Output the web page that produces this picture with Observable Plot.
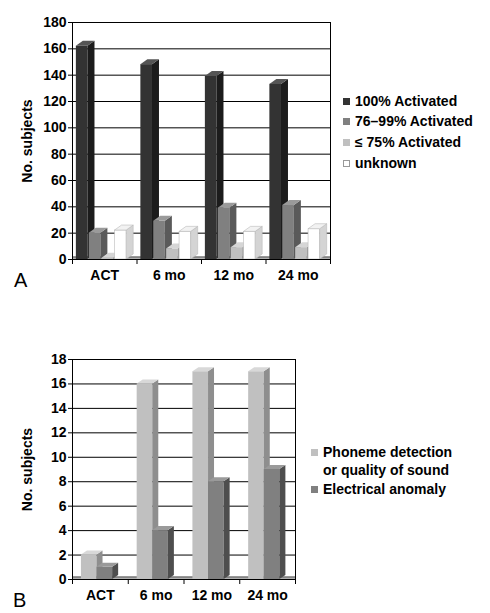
<!DOCTYPE html>
<html><head><meta charset="utf-8">
<script src="https://cdn.jsdelivr.net/npm/d3@7"></script>
<script src="https://cdn.jsdelivr.net/npm/@observablehq/plot@0.6"></script>
<style>
body{margin:0;background:#fff;font-family:"Liberation Sans",Arial,sans-serif;}
#root{position:relative;width:490px;height:613px;overflow:hidden;background:#fff}
.leg{position:absolute;font-weight:bold;font-size:14px;white-space:nowrap;line-height:16px;color:#000}
.sw{position:absolute;width:7px;height:7px;box-sizing:border-box}
.letter{position:absolute;font-size:20px;line-height:20px;color:#000}
</style></head><body><div id="root"></div>
<script>
const categories = ["ACT", "6 mo", "12 mo", "24 mo"];
const seriesA = ["100% Activated", "76\u201399% Activated", "\u2264 75% Activated", "unknown"];
const valuesA100 = [162, 148, 139, 133];
const valuesA76 = [20, 29, 39, 41];
const valuesA75 = [1, 8, 9, 9];
const valuesAunk = [22, 21, 21, 23];
const ticksA = [0, 20, 40, 60, 80, 100, 120, 140, 160, 180];
const seriesB = ["Phoneme detection", "Electrical anomaly"];
const seriesBline2 = "or quality of sound";
const valuesBphon = [2, 16, 17, 17];
const valuesBelec = [1, 4, 8, 9];
const ticksB = [0, 2, 4, 6, 8, 10, 12, 14, 16, 18];

const valuesA = [valuesA100, valuesA76, valuesA75, valuesAunk];
const valuesB = [valuesBphon, valuesBelec];

const frontA = ["#333333", "#808080", "#c0c0c0", "#ffffff"];
const sideA = ["#1c1c1c", "#5a5a5a", "#969696", "#d4d4d4"];
const topA = ["#555555", "#9a9a9a", "#d6d6d6", "#f2f2f2"];
const frontB = ["#c0c0c0", "#808080"];
const sideB = ["#8e8e8e", "#4e4e4e"];
const topB = ["#d8d8d8", "#9a9a9a"];

const root = document.getElementById("root");
const NS = "http://www.w3.org/2000/svg";

function face3d(depth, rise, sideColor, topColor, edge) {
  return (index, scales, values, dimensions, context, next) => {
    const g = next(index, scales, values, dimensions, context);
    for (const r of Array.from(g.querySelectorAll("rect"))) {
      const x = +r.getAttribute("x"), y = +r.getAttribute("y");
      const w = +r.getAttribute("width"), h = +r.getAttribute("height");
      const side = document.createElementNS(NS, "polygon");
      side.setAttribute("points", `${x + w},${y} ${x + w + depth},${y - rise} ${x + w + depth},${y + h - rise} ${x + w},${y + h}`);
      side.setAttribute("fill", sideColor);
      const top = document.createElementNS(NS, "polygon");
      top.setAttribute("points", `${x},${y} ${x + depth},${y - rise} ${x + w + depth},${y - rise} ${x + w},${y}`);
      top.setAttribute("fill", topColor);
      if (edge) {
        side.setAttribute("stroke", edge); side.setAttribute("stroke-width", 0.6);
        top.setAttribute("stroke", edge); top.setAttribute("stroke-width", 0.6);
      }
      r.after(side, top);
    }
    return g;
  };
}

function chart({series, values, ticks, maxY, front, side, topc, geo, width, height, marginTop, marginBottom, depth, rise}) {
  const marks = [
    Plot.gridY(ticks, {stroke: "#000", strokeOpacity: 1, strokeWidth: 1}),
    Plot.ruleX([categories.length], {stroke: "#000"}),
    Plot.ruleY([0], {stroke: "#b0b0b0", strokeWidth: 2, dy: -1}),
    Plot.ruleY([0], {stroke: "#333", strokeWidth: 1, dy: -2.5})
  ];
  series.forEach((s, j) => {
    const data = categories.map((c, i) => ({cat: c, i, series: s, value: values[j][i]}));
    marks.push(Plot.rect(data, {
      x1: d => d.i + geo.start + j * geo.step,
      x2: d => d.i + geo.start + j * geo.step + geo.width,
      y1: 0,
      y2: "value",
      fill: front[j],
      stroke: front[j] === "#ffffff" ? "#bbbbbb" : null,
      strokeWidth: 0.6,
      render: face3d(depth, rise, side[j], topc[j], front[j] === "#ffffff" ? "#bbbbbb" : null)
    }));
  });
  marks.push(
    Plot.ruleY([0], {stroke: "#000"}),
    Plot.axisY(ticks, {tickSize: 4, tickPadding: 2, label: "No. subjects", labelAnchor: "center", labelArrow: "none", labelOffset: 50, fontSize: 14, fontWeight: "bold"}),
    Plot.axisX(d3.range(categories.length + 1), {tickSize: 5, tickFormat: () => "", label: null}),
    Plot.axisX(categories.map((c, i) => i + 0.5), {tickSize: 0, tickPadding: 11, tickFormat: d => categories[Math.floor(d)], label: null, fontSize: 14, fontWeight: "bold"}),
    Plot.ruleX([0], {stroke: "#000"})
  );
  return Plot.plot({
    width, height, marginLeft: 72, marginRight: 5, marginTop, marginBottom,
    style: {fontFamily: "'Liberation Sans', Arial, sans-serif", fontSize: "14px", fontWeight: "bold", color: "#000", background: "transparent"},
    x: {type: "linear", domain: [0, categories.length], axis: null},
    y: {domain: [0, maxY], axis: null},
    marks
  });
}

const svgA = chart({series: seriesA, values: valuesA, ticks: ticksA, maxY: 180, front: frontA, side: sideA, topc: topA,
  geo: {start: 0.06, step: 0.2, width: 0.18}, width: 335, height: 290, marginTop: 22, marginBottom: 31, depth: 7, rise: 5});
svgA.style.position = "absolute"; svgA.style.left = "0px"; svgA.style.top = "0px";
root.appendChild(svgA);

const svgB = chart({series: seriesB, values: valuesB, ticks: ticksB, maxY: 18, front: frontB, side: sideB, topc: topB,
  geo: {start: 0.16, step: 0.28, width: 0.28}, width: 300, height: 283, marginTop: 29, marginBottom: 34, depth: 6, rise: 4});
svgB.style.position = "absolute"; svgB.style.left = "0px"; svgB.style.top = "330px";
root.appendChild(svgB);

function addLegend(x, y, color, text, border) {
  const sw = document.createElement("div");
  sw.className = "sw";
  sw.style.left = x + "px"; sw.style.top = (y - 3) + "px"; sw.style.background = color;
  if (border) sw.style.border = "1px solid " + border;
  root.appendChild(sw);
  if (text) addText(x + 12, y, text);
}
function addText(x, y, text) {
  const t = document.createElement("div");
  t.className = "leg"; t.textContent = text;
  t.style.left = x + "px"; t.style.top = (y - 8) + "px";
  root.appendChild(t);
}
const legAy = [101, 121, 142, 163];
seriesA.forEach((s, j) => addLegend(343, legAy[j], frontA[j], s, frontA[j] === "#ffffff" ? "#999" : null));
addLegend(311, 452, frontB[0], seriesB[0]);
addText(323, 470, seriesBline2);
addLegend(311, 489, frontB[1], seriesB[1]);

function letter(t, x, y) {
  const d = document.createElement("div");
  d.className = "letter"; d.textContent = t;
  d.style.left = x + "px"; d.style.top = y + "px";
  root.appendChild(d);
}
letter("A", 14, 270);
letter("B", 13, 590);
</script>
</body></html>
